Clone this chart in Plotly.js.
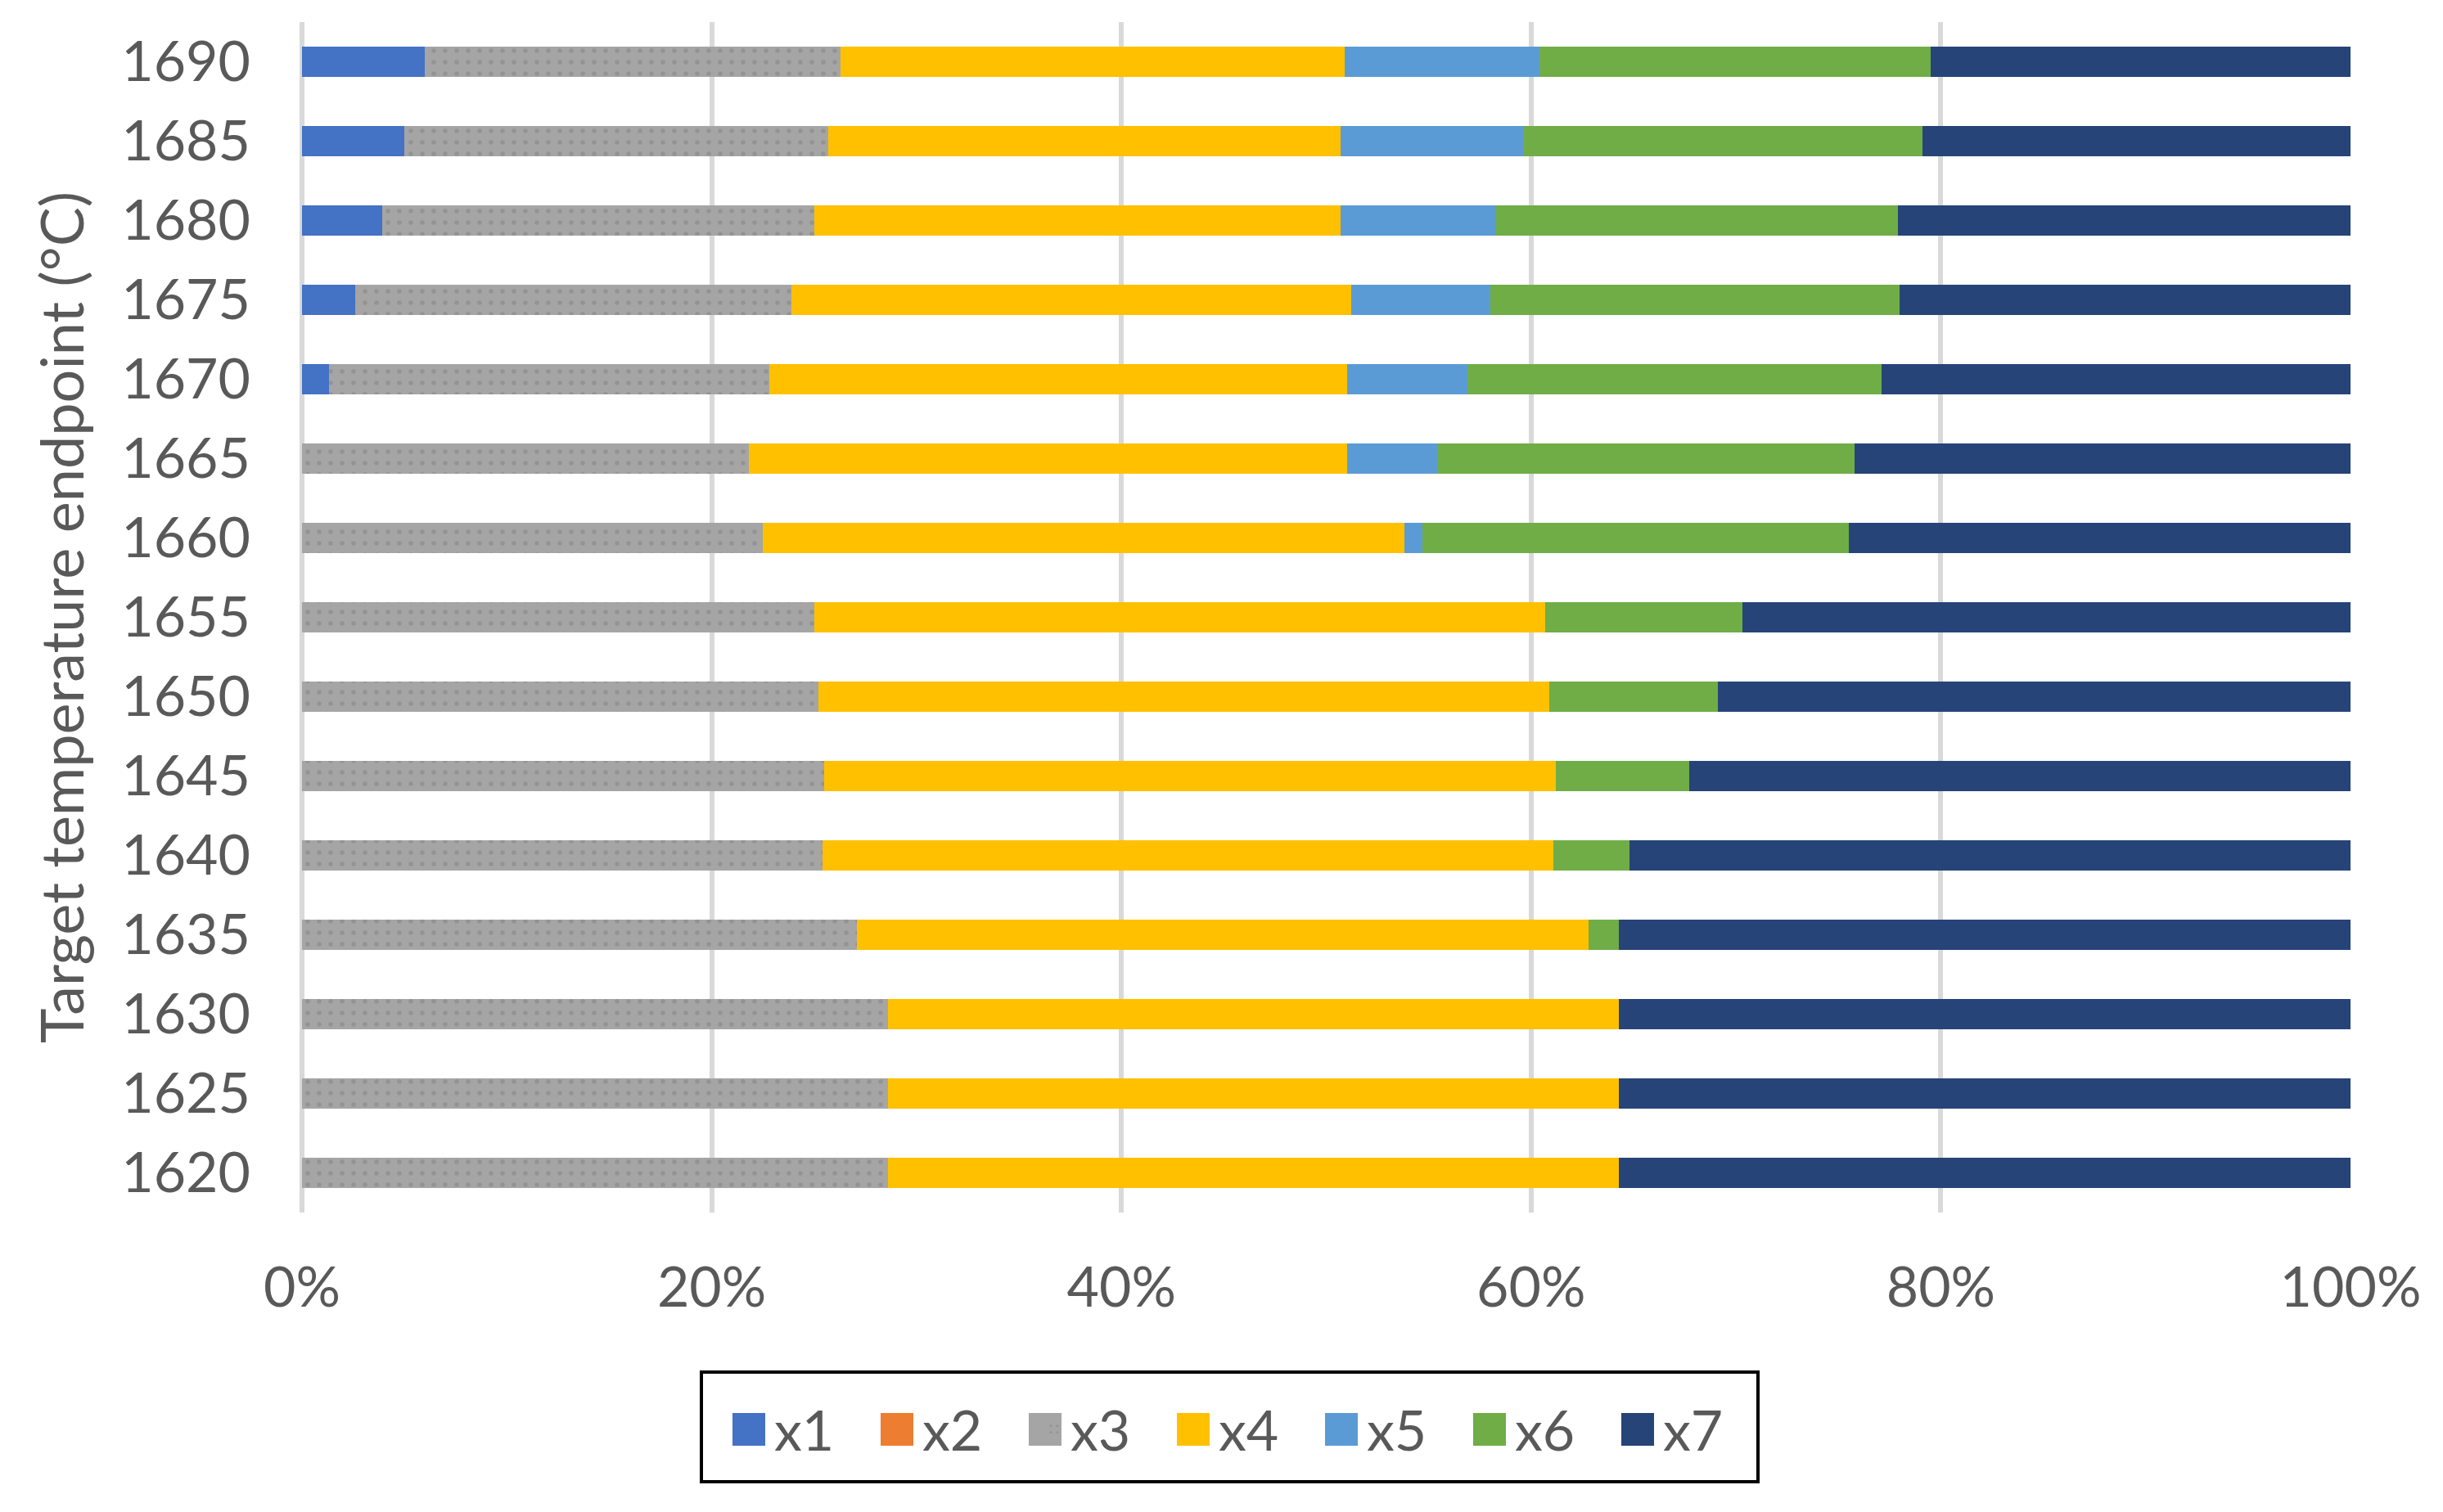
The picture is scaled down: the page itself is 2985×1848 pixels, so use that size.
<!DOCTYPE html>
<html>
<head>
<meta charset="utf-8">
<script src="https://cdn.plot.ly/plotly-3.0.1.min.js"></script>
<style>html,body{margin:0;padding:0;background:#fff;}#chart{width:2985px;height:1848px;}</style>
</head>
<body>
<div id="chart"></div>
<script>
var categories = ['1620','1625','1630','1635','1640','1645','1650','1655','1660','1665','1670','1675','1680','1685','1690'];
var seriesNames = ['x1','x2','x3','x4','x5','x6','x7'];
var x1 = [0,0,0,0,0,0,0,0,0,0,1.3,2.6,3.9,5.0,6.0];
var x2 = [0,0,0,0,0,0,0,0,0,0,0,0,0,0,0];
var x3 = [28.6,28.6,28.6,27.1,25.4,25.5,25.2,25.0,22.5,21.8,21.5,21.3,21.1,20.7,20.3];
var x4 = [35.7,35.7,35.7,35.7,35.7,35.7,35.7,35.7,31.3,29.2,28.2,27.3,25.7,25.0,24.6];
var x5 = [0,0,0,0,0,0,0,0,0.9,4.4,5.9,6.8,7.6,8.9,9.5];
var x6 = [0,0,0,1.5,3.7,6.5,8.2,9.6,20.8,20.4,20.2,20.0,19.6,19.5,19.1];
var x7 = [35.7,35.7,35.7,35.7,35.2,32.3,30.9,29.7,24.5,24.2,22.9,22.0,22.1,20.9,20.5];
var xTickVals = [0,20,40,60,80,100];
var xTickText = ['0%','20%','40%','60%','80%','100%'];
var yTitle = 'Target temperature endpoint (°C)';

var colors = ['#4472C4','#ED7D31','#A5A5A5','#FFC000','#5B9BD5','#70AD47','#264478'];
var values = [x1,x2,x3,x4,x5,x6,x7];

var traces = values.map(function(v,i){
  var marker = {color: colors[i], line:{width:0}};
  if (i === 2) {
    marker.pattern = {shape:'.', bgcolor:'#A5A5A5', fgcolor:'#939393', size:14, solidity:0.12};
  }
  return {
    type:'bar', orientation:'h', name: seriesNames[i],
    x: v, y: categories, marker: marker, hoverinfo:'x+y+name'
  };
});

// plot-area geometry (px) used to place the legend frame and larger legend keys
var W = 2985, H = 1848, ML = 369, MR = 113, MT = 27, MB = 366;
var PW = W - ML - MR, PH = H - MT - MB;
function px2x(p){ return (p - ML) / PW; }
function px2y(p){ return (H - MB - p) / PH; }

var legLeft = 906, legStep = 181, keyX0 = 895, keySize = 40, keyCY = 1747;
var shapes = [{
  type:'rect', xref:'paper', yref:'paper',
  x0:px2x(857), x1:px2x(2148), y0:px2y(1677), y1:px2y(1811),
  line:{color:'#000000', width:4}, fillcolor:'rgba(255,255,255,0)', layer:'above'
}];
seriesNames.forEach(function(n,i){
  var a = keyX0 + i*legStep;
  shapes.push({
    type:'rect', xref:'paper', yref:'paper',
    x0:px2x(a), x1:px2x(a+keySize), y0:px2y(keyCY-keySize/2), y1:px2y(keyCY+keySize/2),
    line:{width:0}, fillcolor:colors[i], layer:'above'
  });
});

var font = 'Lato, "Liberation Sans", Arial, sans-serif';
var layout = {
  width: W, height: H,
  margin: {l:ML, r:MR, t:MT, b:MB, pad:0},
  barmode: 'stack',
  bargap: 0.62,
  paper_bgcolor:'#ffffff', plot_bgcolor:'#ffffff',
  font: {family: font, color:'#595959', size:68},
  xaxis: {
    range:[0,100], tickvals:xTickVals, ticktext:xTickText,
    showgrid:true, gridcolor:'#D9D9D9', gridwidth:6,
    zeroline:true, zerolinecolor:'#D9D9D9', zerolinewidth:6,
    showline:false, ticks:'', ticklabelstandoff:46,
    tickfont:{family:font, size:68, color:'#595959'}, fixedrange:true
  },
  yaxis: {
    type:'category', categoryorder:'array', categoryarray:categories,
    showgrid:false, zeroline:false, showline:false, ticks:'',
    ticklabelstandoff:62,
    tickfont:{family:font, size:68, color:'#595959'},
    title:{text:yTitle, font:{family:font, size:72, color:'#595959'}, standoff:22},
    fixedrange:true
  },
  shapes: shapes,
  showlegend:true,
  legend: {
    orientation:'h', x:px2x(legLeft), xanchor:'left', y:px2y(keyCY), yanchor:'middle',
    borderwidth:0, bgcolor:'rgba(255,255,255,0)',
    font:{family:font, size:68, color:'#595959'},
    traceorder:'normal', entrywidth:136, entrywidthmode:'pixels',
    itemclick:false, itemdoubleclick:false
  }
};

Plotly.newPlot('chart', traces, layout, {displayModeBar:false, staticPlot:true});
</script>
</body>
</html>
